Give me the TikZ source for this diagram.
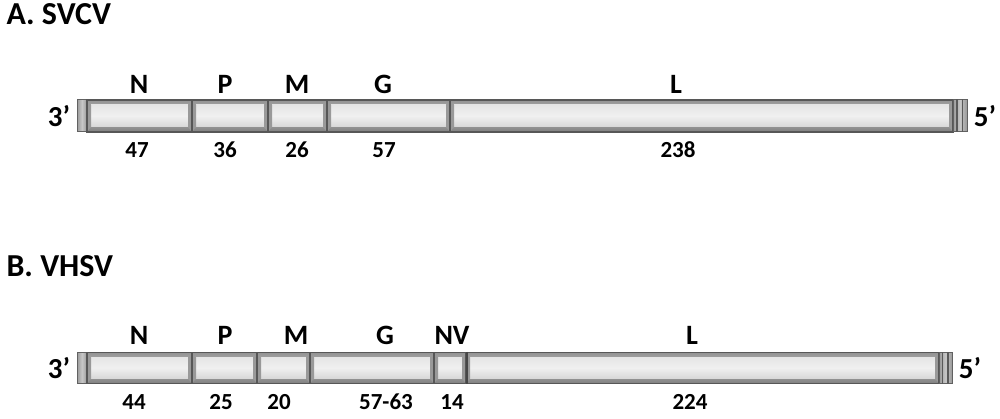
\documentclass[tikz,border=0pt]{standalone}
\usepackage{fontspec}
\setmainfont{Carlito}
\begin{document}
\begin{tikzpicture}[x=1pt,y=-1pt,
  seg/.style={rectangle, inner sep=0pt, minimum height=32pt, draw=black!66, line width=1.3pt,
    top color=black!42, bottom color=black!50, middle color=black!28,
    path picture={
      \fill[top color=black!12, bottom color=black!20, middle color=black!6]
        ([shift={(4pt,-5pt)}]path picture bounding box.north west) rectangle
        ([shift={(-4pt,5pt)}]path picture bounding box.south east);
      \fill[black!40] (path picture bounding box.north west) -- ([shift={(4pt,-5pt)}]path picture bounding box.north west)
        -- ([shift={(4pt,5pt)}]path picture bounding box.south west) -- (path picture bounding box.south west) -- cycle;
      \fill[black!40] (path picture bounding box.north east) -- ([shift={(-4pt,-5pt)}]path picture bounding box.north east)
        -- ([shift={(-4pt,5pt)}]path picture bounding box.south east) -- (path picture bounding box.south east) -- cycle;
    }},
  capseg/.style={rectangle, inner sep=0pt, minimum height=32pt, draw=black!62, line width=1pt,
    left color=black!40, right color=black!40, middle color=black!22},
  title/.style={font=\fontsize{32}{34}\selectfont\bfseries, anchor=west},
  gene/.style={font=\fontsize{28}{30}\selectfont\bfseries},
  num/.style={font=\fontsize{23}{25}\selectfont\bfseries},
  endlab/.style={font=\fontsize{29}{31}\selectfont\bfseries}
]
\useasboundingbox (0,0) rectangle (1000,419);

% ---- A. SVCV ----
\node[title] (tA) at (3,14) {A. SVCV};
\node[capseg, minimum width=10pt] (aC1) at (82,116) {};
\draw[black!65, line width=2pt] (aC1.north east) -- (aC1.south east);
\node[seg, minimum width=105pt] (aN) at (139.5,116) {};
\node[seg, minimum width=76pt] (aP) at (230,116) {};
\node[seg, minimum width=59pt] (aM) at (297.5,116) {};
\node[seg, minimum width=123pt] (aG) at (388.5,116) {};
\node[seg, minimum width=503pt] (aL) at (701.5,116) {};
\node[capseg, minimum width=14pt] (aC2) at (960,116) {};
\draw[black!65, line width=1.6pt] ([xshift=-3pt]aC2.north) -- ([xshift=-3pt]aC2.south);
\draw[black!65, line width=1.6pt] ([xshift=2.5pt]aC2.north) -- ([xshift=2.5pt]aC2.south);
\node[endlab] (a3) at (59,116) {3’};
\node[endlab] (a5) at (985,116) {5’};

\node[gene] (laN) at (139,84) {N};
\node[gene] (laP) at (225,84) {P};
\node[gene] (laM) at (297,84) {M};
\node[gene] (laG) at (383,84) {G};
\node[gene] (laL) at (676,84) {L};
\node[num] (naN) at (137,150) {47};
\node[num] (naP) at (225,150) {36};
\node[num] (naM) at (297,150) {26};
\node[num] (naG) at (384,150) {57};
\node[num] (naL) at (678,150) {238};

% ---- B. VHSV ----
\node[title] (tB) at (3,266) {B. VHSV};
\node[capseg, minimum width=10pt, minimum height=31pt] (bC1) at (82,368) {};
\draw[black!65, line width=2pt] (bC1.north east) -- (bC1.south east);
\node[seg, minimum width=105pt, minimum height=31pt] (bN) at (139.5,368) {};
\node[seg, minimum width=65pt, minimum height=31pt] (bP) at (224.5,368) {};
\node[seg, minimum width=53pt, minimum height=31pt] (bM) at (283.5,368) {};
\node[seg, minimum width=124pt, minimum height=31pt] (bG) at (372,368) {};
\node[seg, minimum width=32pt, minimum height=31pt] (bNV) at (450,368) {};
\node[seg, minimum width=473pt, minimum height=31pt] (bL) at (702.5,368) {};
\node[capseg, minimum width=13pt, minimum height=31pt] (bC2) at (945.5,368) {};
\draw[black!65, line width=1.6pt] ([xshift=-3pt]bC2.north) -- ([xshift=-3pt]bC2.south);
\draw[black!65, line width=1.6pt] ([xshift=2.5pt]bC2.north) -- ([xshift=2.5pt]bC2.south);
\draw[black!72, line width=2pt] (bNV.north east) -- (bNV.south east);
\node[endlab] (b3) at (59,368) {3’};
\node[endlab] (b5) at (970,368) {5’};

\node[gene] (lbN) at (139,335) {N};
\node[gene] (lbP) at (225,335) {P};
\node[gene] (lbM) at (296,335) {M};
\node[gene] (lbG) at (385,335) {G};
\node[gene] (lbNV) at (452,335) {NV};
\node[gene] (lbL) at (692,335) {L};
\node[num] (nbN) at (134,402) {44};
\node[num] (nbP) at (221,402) {25};
\node[num] (nbM) at (279,402) {20};
\node[num] (nbG) at (386,402) {57-63};
\node[num] (nbNV) at (452,402) {14};
\node[num] (nbL) at (690,402) {224};
\end{tikzpicture}
\end{document}
